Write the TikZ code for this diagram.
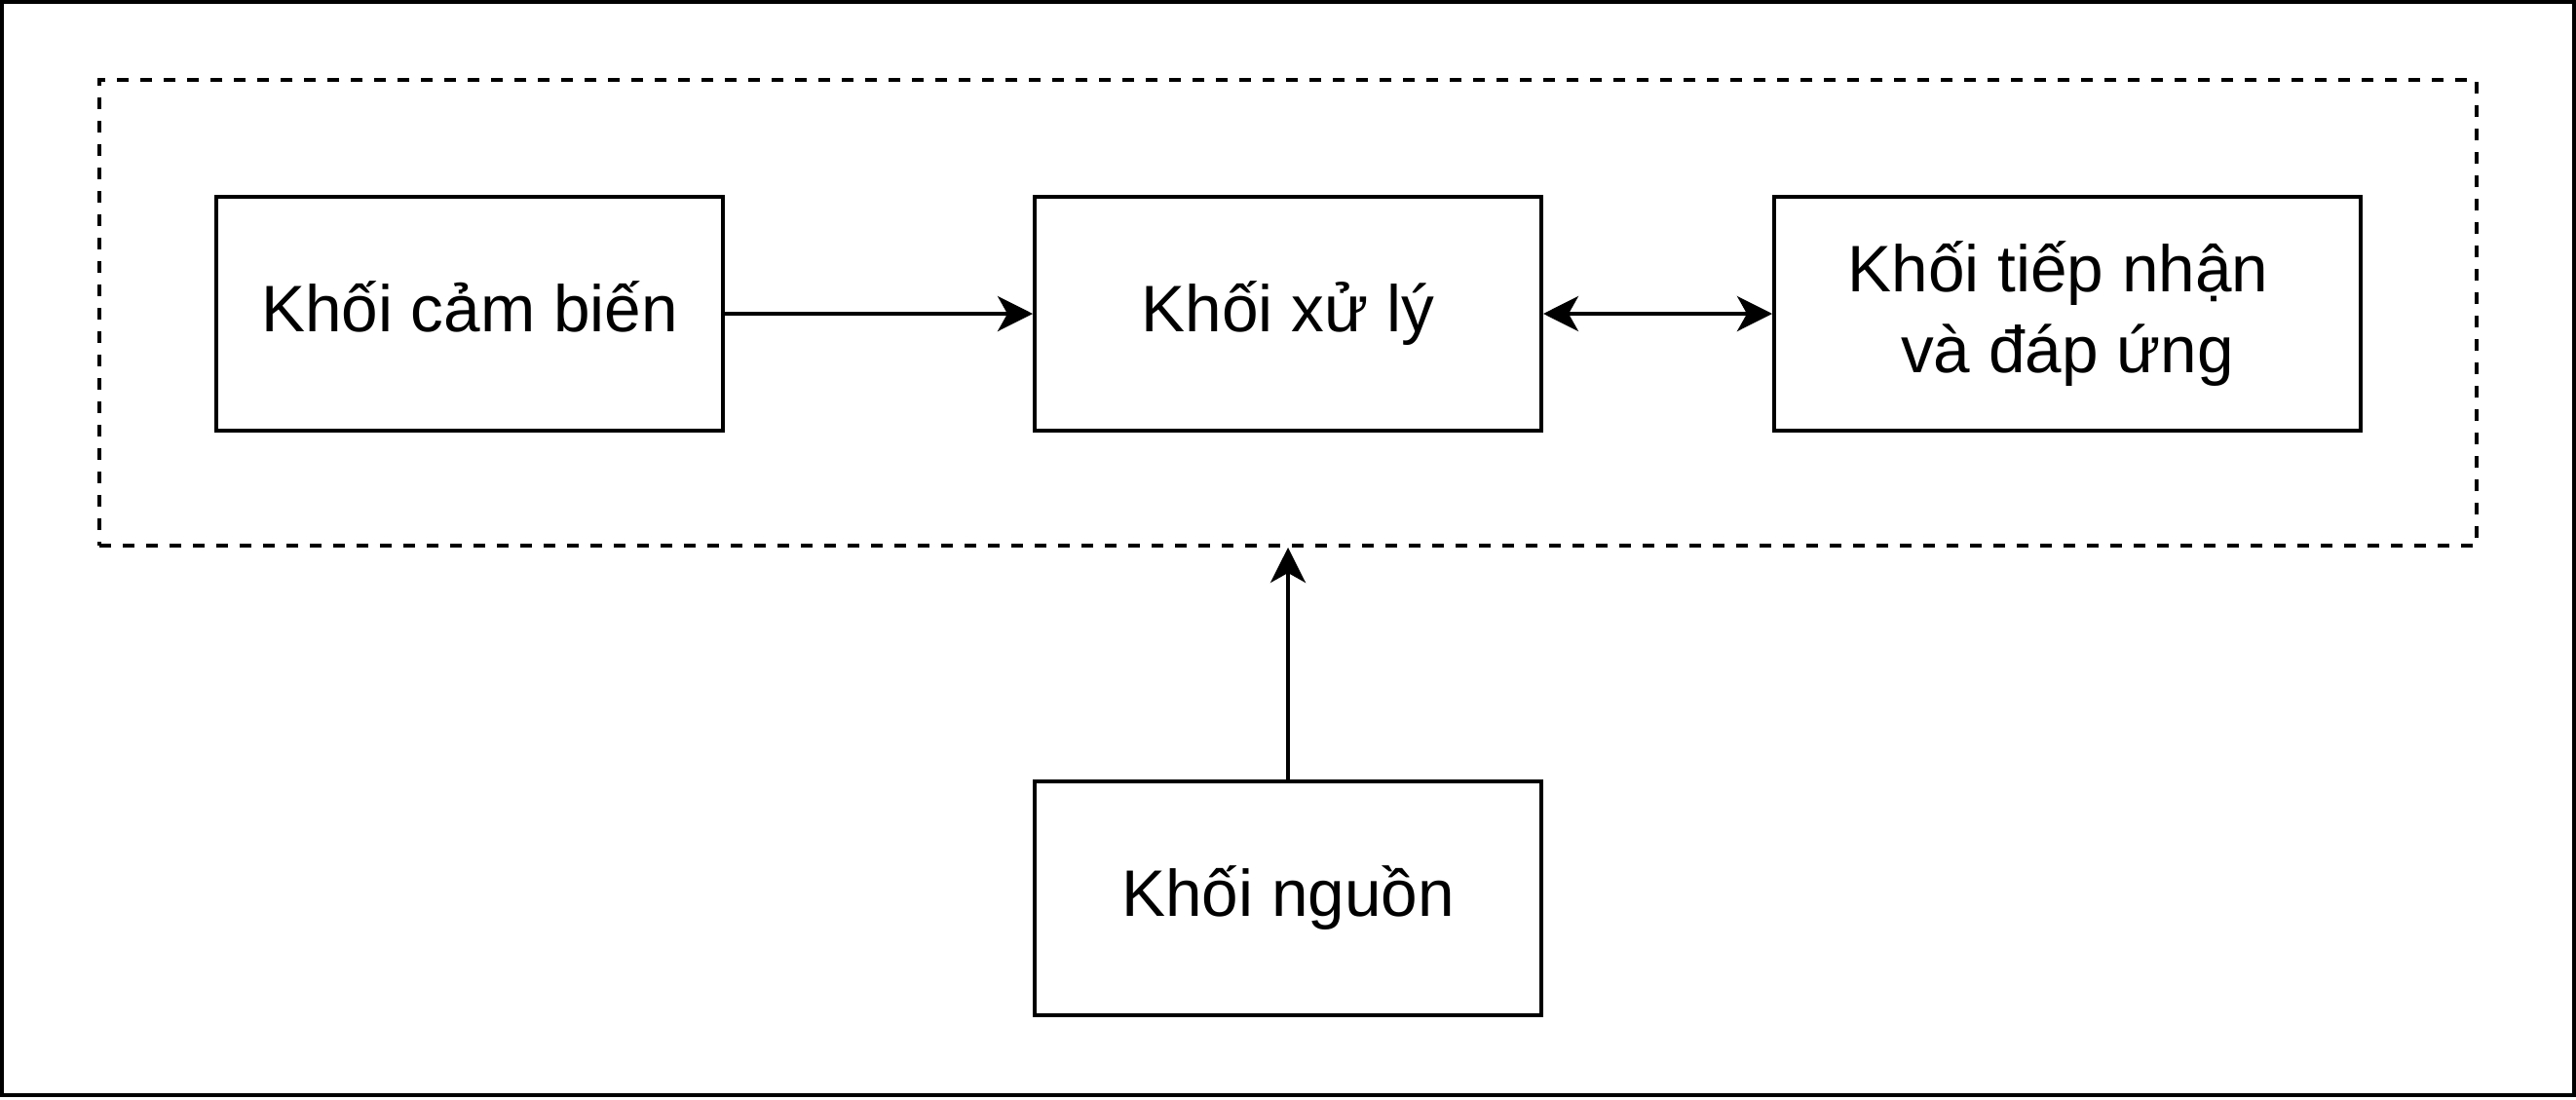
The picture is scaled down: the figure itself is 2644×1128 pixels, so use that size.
\documentclass[tikz,border=0pt]{standalone}
\usepackage{fontspec}
\setmainfont{Liberation Sans}
\usetikzlibrary{arrows.meta}
\begin{document}
\begin{tikzpicture}[x=1pt,y=-1pt,
  blk/.style={draw, line width=4pt, rectangle, minimum height=240pt, inner sep=0pt,
    font=\fontsize{67.5}{83}\selectfont, align=center},
  oneline/.style={text height=50pt, text depth=14pt},
  grpbox/.style={draw, line width=4pt, dash pattern=on 12pt off 12pt, rectangle, inner sep=0pt},
  conn/.style={line width=4pt, -{Stealth[length=36pt, width=36pt, inset=10pt]}},
  conn2/.style={line width=4pt, {Stealth[length=36pt, width=36pt, inset=10pt]}-{Stealth[length=36pt, width=36pt, inset=10pt]}}]
\useasboundingbox (0,0) rectangle (2644,1128);
\draw[line width=4pt] (2,2) rectangle (2642,1124);
\node[grpbox, minimum width=2440pt, minimum height=478pt] (grp) at (1322,321) {};
\node[blk, oneline, minimum width=520pt] (cb) at (482,322) {Khối cảm biến};
\node[blk, oneline, minimum width=520pt] (xl) at (1322,322) {Khối xử lý};
\node[blk, minimum width=602pt] (tn) at (2122,322) {Khối tiếp nhận\hspace*{0.278em}\\và đáp ứng};
\node[blk, oneline, minimum width=520pt] (ng) at (1322,922) {Khối nguồn};
\draw[conn] (cb) -- (xl);
\draw[conn2] (xl) -- (tn);
\draw[conn] (ng.north) -- (grp.south);
\end{tikzpicture}
\end{document}
